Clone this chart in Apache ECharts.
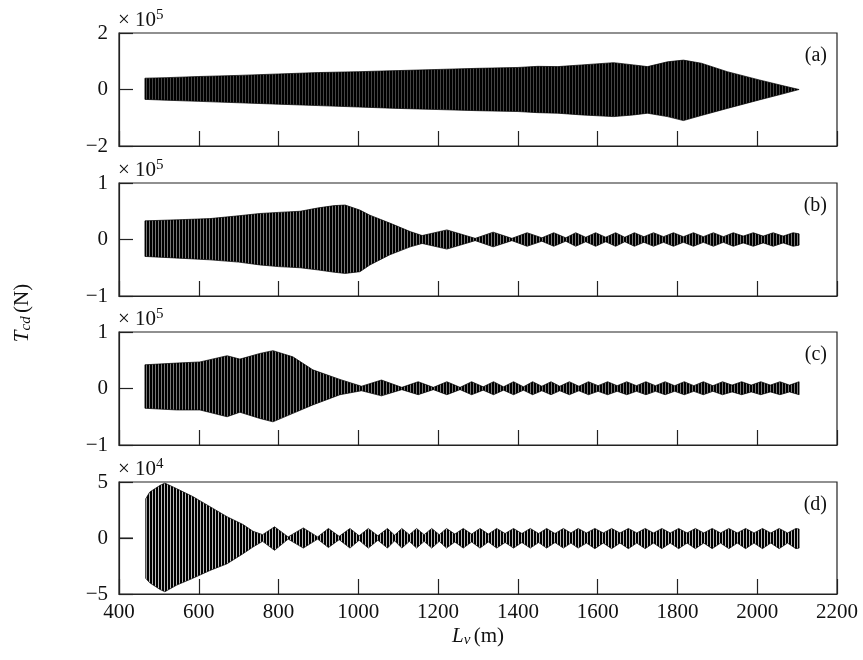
<!DOCTYPE html>
<html>
<head>
<meta charset="utf-8">
<script src="https://cdn.jsdelivr.net/npm/echarts@6/dist/echarts.min.js"></script>
<style>
  html, body { margin: 0; padding: 0; background: #fff; }
  #main { width: 863px; height: 660px; }
</style>
</head>
<body>
<div id="main"></div>
<script>
// envelopes of T_cd (x in m, values in axis units)
const aX  = [465, 520, 600, 700, 800, 900, 1000, 1100, 1200, 1300, 1400, 1450, 1500, 1560, 1640, 1690, 1725, 1775, 1815, 1860, 1925, 2005, 2060, 2105];
const aUp = [0.40, 0.42, 0.46, 0.50, 0.55, 0.60, 0.63, 0.67, 0.71, 0.75, 0.78, 0.82, 0.81, 0.87, 0.95, 0.87, 0.81, 0.98, 1.04, 0.93, 0.63, 0.34, 0.15, 0.0];
const aLo = [-0.35, -0.38, -0.42, -0.47, -0.52, -0.57, -0.62, -0.67, -0.71, -0.75, -0.78, -0.82, -0.84, -0.90, -0.96, -0.90, -0.84, -0.96, -1.10, -0.92, -0.67, -0.37, -0.17, 0.0];

const bX  = [465, 550, 628, 700, 753, 800, 854, 900, 940, 967, 1004, 1029, 1079, 1130, 1160, 1222, 1293, 1338, 1385, 1423, 1460, 1490, 1520, 1545, 1570, 1595, 1620, 1645, 1668, 1692, 1716, 1740, 1765, 1790, 1815, 1840, 1865, 1890, 1915, 1940, 1965, 1990, 2015, 2040, 2065, 2090, 2105];
const bUp = [0.33, 0.35, 0.37, 0.42, 0.46, 0.48, 0.50, 0.56, 0.60, 0.61, 0.52, 0.43, 0.29, 0.14, 0.07, 0.17, 0.02, 0.13, 0.02, 0.12, 0.03, 0.12, 0.03, 0.12, 0.04, 0.12, 0.04, 0.12, 0.04, 0.12, 0.05, 0.12, 0.05, 0.12, 0.05, 0.12, 0.05, 0.12, 0.05, 0.12, 0.06, 0.12, 0.06, 0.12, 0.06, 0.12, 0.10];
const bLo = [-0.30, -0.33, -0.36, -0.40, -0.45, -0.48, -0.50, -0.54, -0.58, -0.60, -0.57, -0.45, -0.27, -0.13, -0.07, -0.17, -0.02, -0.13, -0.02, -0.12, -0.03, -0.12, -0.03, -0.12, -0.04, -0.12, -0.04, -0.12, -0.04, -0.12, -0.05, -0.12, -0.05, -0.12, -0.05, -0.12, -0.05, -0.12, -0.05, -0.12, -0.06, -0.12, -0.06, -0.12, -0.06, -0.12, -0.10];

const cX  = [465, 545, 603, 671, 703, 753, 786, 836, 886, 954, 1008, 1058, 1109, 1150, 1188, 1222, 1255, 1284, 1313, 1339, 1364, 1389, 1414, 1437, 1460, 1483, 1505, 1529, 1553, 1577, 1601, 1625, 1649, 1673, 1697, 1721, 1745, 1769, 1793, 1817, 1841, 1865, 1889, 1913, 1937, 1961, 1985, 2009, 2033, 2057, 2081, 2105];
const cUp = [0.42, 0.45, 0.47, 0.58, 0.52, 0.62, 0.67, 0.56, 0.33, 0.16, 0.04, 0.15, 0.02, 0.12, 0.02, 0.12, 0.02, 0.12, 0.03, 0.12, 0.03, 0.12, 0.03, 0.12, 0.04, 0.12, 0.04, 0.12, 0.04, 0.12, 0.05, 0.12, 0.05, 0.12, 0.05, 0.12, 0.05, 0.12, 0.05, 0.12, 0.05, 0.12, 0.05, 0.12, 0.06, 0.12, 0.06, 0.12, 0.06, 0.12, 0.06, 0.12];
const cLo = [-0.35, -0.38, -0.38, -0.50, -0.42, -0.53, -0.59, -0.44, -0.29, -0.11, -0.04, -0.13, -0.02, -0.11, -0.02, -0.11, -0.02, -0.11, -0.03, -0.11, -0.03, -0.11, -0.03, -0.11, -0.04, -0.11, -0.04, -0.11, -0.04, -0.11, -0.05, -0.11, -0.05, -0.11, -0.05, -0.11, -0.05, -0.11, -0.05, -0.11, -0.05, -0.11, -0.05, -0.11, -0.06, -0.11, -0.06, -0.11, -0.06, -0.11, -0.06, -0.11];

const dX  = [467, 477, 503, 515, 545, 585, 628, 671, 711, 736, 760, 790, 824, 862, 898, 925, 952, 979, 1002, 1025, 1049, 1073, 1091, 1109, 1128, 1146, 1165, 1184, 1203, 1221, 1242, 1263, 1284, 1305, 1326, 1347, 1368, 1389, 1410, 1431, 1452, 1472, 1493, 1514, 1533, 1551, 1572, 1593, 1614, 1635, 1656, 1677, 1698, 1719, 1740, 1761, 1782, 1803, 1824, 1845, 1866, 1887, 1908, 1929, 1950, 1971, 1992, 2013, 2034, 2055, 2076, 2097, 2105];
const dUp = [3.5, 4.1, 4.7, 4.9, 4.4, 3.7, 2.8, 1.9, 1.2, 0.6, 0.3, 1.0, 0.1, 0.9, 0.1, 0.85, 0.15, 0.85, 0.2, 0.85, 0.2, 0.85, 0.25, 0.85, 0.3, 0.85, 0.3, 0.85, 0.3, 0.85, 0.35, 0.85, 0.35, 0.85, 0.35, 0.85, 0.4, 0.85, 0.4, 0.85, 0.4, 0.85, 0.4, 0.85, 0.45, 0.85, 0.45, 0.85, 0.45, 0.85, 0.45, 0.85, 0.45, 0.85, 0.45, 0.85, 0.45, 0.85, 0.45, 0.85, 0.45, 0.85, 0.45, 0.85, 0.45, 0.85, 0.45, 0.85, 0.45, 0.85, 0.45, 0.85, 0.8];
const dLo = [-3.6, -4.0, -4.6, -4.8, -4.2, -3.6, -2.9, -2.3, -1.4, -0.8, -0.3, -1.1, -0.1, -0.9, -0.1, -0.85, -0.15, -0.9, -0.2, -0.9, -0.2, -0.9, -0.25, -0.9, -0.3, -0.9, -0.3, -0.9, -0.3, -0.9, -0.35, -0.9, -0.35, -0.9, -0.35, -0.9, -0.4, -0.9, -0.4, -0.9, -0.4, -0.9, -0.4, -0.9, -0.45, -0.9, -0.45, -0.95, -0.45, -0.95, -0.45, -0.95, -0.45, -0.95, -0.45, -0.95, -0.45, -0.95, -0.45, -0.95, -0.45, -0.95, -0.45, -0.95, -0.45, -0.95, -0.45, -0.95, -0.45, -0.95, -0.45, -0.95, -0.9];

const xTicks = [400, 600, 800, 1000, 1200, 1400, 1600, 1800, 2000, 2200];
const panelNames = ['(a)', '(b)', '(c)', '(d)'];
const yLimits = [2, 1, 1, 5];
const yExp = ['5', '5', '5', '4'];

const panels = [
    {x: aX, up: aUp, lo: aLo},
    {x: bX, up: bUp, lo: bLo},
    {x: cX, up: cUp, lo: cLo},
    {x: dX, up: dUp, lo: dLo}
];

const SERIF = '"Liberation Serif", "DejaVu Serif", serif';
const tops = [33, 183, 332, 482];
const heights = [113, 113, 113, 112];
// stripe texture so the dense oscillation doesn't read as a flat slab
const gapColors = ['#444', '#777', '#777', '#bbb'];

function stripes(gap) {
    const c = document.createElement('canvas');
    c.width = 3; c.height = 1;
    const g = c.getContext('2d');
    g.fillStyle = gap;
    g.fillRect(0, 0, 3, 1);
    g.fillStyle = '#000';
    g.fillRect(0, 0, 2, 1);
    return c;
}

function minus(v) {
    return v < 0 ? '\u2212' + (-v) : String(v);
}

const chart = echarts.init(document.getElementById('main'));

const grid = [], xAxis = [], yAxis = [], series = [], graphic = [];
const frame = {color: '#222', width: 1.2};

panels.forEach((p, i) => {
    const band = p.x.map((x, k) => [x, p.lo[k], p.up[k]]);
    const pattern = stripes(gapColors[i]);
    grid.push({
        left: 119, right: 26, top: tops[i], height: heights[i],
        show: true, borderColor: '#222', borderWidth: 1.2, backgroundColor: 'transparent'
    });
    xAxis.push({
        gridIndex: i, type: 'value', min: xTicks[0], max: xTicks[xTicks.length - 1], interval: 200,
        axisLine: {show: true, onZero: false, lineStyle: frame},
        axisTick: {show: true, inside: true, length: 15, lineStyle: frame},
        splitLine: {show: false},
        axisLabel: {
            show: i === 3, color: '#111', fontFamily: SERIF, fontSize: 21, margin: 8,
            formatter: v => String(v)
        }
    });
    yAxis.push({
        gridIndex: i, type: 'value', min: -yLimits[i], max: yLimits[i], interval: yLimits[i],
        axisLine: {show: true, onZero: false, lineStyle: frame},
        axisTick: {show: true, inside: true, length: 14, lineStyle: frame},
        splitLine: {show: false},
        axisLabel: {color: '#111', fontFamily: SERIF, fontSize: 21, margin: 11, formatter: minus}
    });
    // one polygon per panel: upper envelope left to right, lower envelope back
    series.push({
        type: 'custom', xAxisIndex: i, yAxisIndex: i, silent: true,
        data: band,
        encode: {x: 0, y: [1, 2]},
        renderItem: function (params, api) {
            if (params.dataIndex !== 0) return;
            const top = band.map(d => api.coord([d[0], d[2]]));
            const bot = band.slice().reverse().map(d => api.coord([d[0], d[1]]));
            return {
                type: 'polygon',
                shape: {points: top.concat(bot)},
                style: {fill: {image: pattern, repeat: 'repeat'}, stroke: '#000', lineWidth: 0.7}
            };
        }
    });
    // short zero tick on the left edge of the frame
    series.push({
        type: 'line', xAxisIndex: i, yAxisIndex: i, silent: true,
        data: [[xTicks[0], 0], [xTicks[0] + 35, 0]],
        symbol: 'none', lineStyle: {color: '#222', width: 1.2}
    });
    // exponent above each panel
    graphic.push({
        type: 'text', left: 118, top: tops[i] - 25,
        style: {
            text: '{m|\u00d7 10}{s|' + yExp[i] + '}',
            rich: {
                m: {fontFamily: SERIF, fontSize: 21, fill: '#111'},
                s: {fontFamily: SERIF, fontSize: 15, fill: '#111', verticalAlign: 'top', padding: [0, 0, 10, 0]}
            }
        }
    });
    // panel tag
    graphic.push({
        type: 'text', right: 36, top: tops[i] + 13,
        style: {text: panelNames[i], fontFamily: SERIF, fontSize: 20, fill: '#111'}
    });
});

// axis names
graphic.push({
    type: 'text', x: 22, y: 313, rotation: Math.PI / 2,
    style: {
        text: '{i|T}{sub|cd} {n|(N)}', align: 'center', verticalAlign: 'middle',
        rich: {
            i: {fontFamily: SERIF, fontStyle: 'italic', fontSize: 21, fill: '#111'},
            sub: {fontFamily: SERIF, fontStyle: 'italic', fontSize: 15, fill: '#111', padding: [8, 0, 0, 0]},
            n: {fontFamily: SERIF, fontSize: 21, fill: '#111'}
        }
    }
});
graphic.push({
    type: 'text', x: 478, y: 636,
    style: {
        text: '{i|L}{sub|v} {n|(m)}', align: 'center', verticalAlign: 'middle',
        rich: {
            i: {fontFamily: SERIF, fontStyle: 'italic', fontSize: 21, fill: '#111'},
            sub: {fontFamily: SERIF, fontStyle: 'italic', fontSize: 15, fill: '#111', padding: [8, 0, 0, 0]},
            n: {fontFamily: SERIF, fontSize: 21, fill: '#111'}
        }
    }
});

chart.setOption({
    animation: false,
    backgroundColor: '#fff',
    grid: grid,
    xAxis: xAxis,
    yAxis: yAxis,
    series: series,
    graphic: graphic
});
</script>
</body>
</html>
